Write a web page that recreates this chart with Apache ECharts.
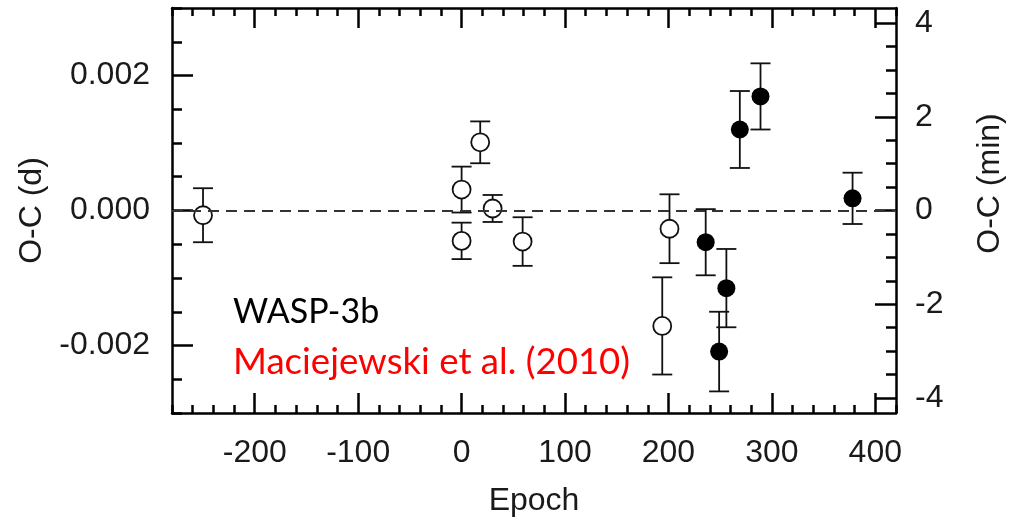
<!DOCTYPE html>
<html>
<head>
<meta charset="utf-8">
<script src="https://cdn.jsdelivr.net/npm/echarts@6/dist/echarts.min.js"></script>
<style>html,body{margin:0;padding:0;background:#fff;}#c{width:1016px;height:522px;}</style>
</head>
<body>
<div id="c"></div>
<script>
// ---- data ----
var openEpoch = [-250, 0, 0, 18, 30, 59, 194, 201];
var openOC    = [-0.00007, 0.00031, -0.00045, 0.00101, 0.00003, -0.00046, -0.00171, -0.00027];
var openErr   = [0.00040, 0.00034, 0.00027, 0.00031, 0.00020, 0.00036, 0.00072, 0.00051];

var filledEpoch = [236, 249, 256, 269, 289, 378];
var filledOC    = [-0.00047, -0.00209, -0.00115, 0.00120, 0.00169, 0.00018];
var filledErr   = [0.00049, 0.00059, 0.00058, 0.00057, 0.00049, 0.00038];

var xMinorTicks = [-280,-260,-240,-220,-200,-180,-160,-140,-120,-100,-80,-60,-40,-20,0,20,40,60,80,100,120,140,160,180,200,220,240,260,280,300,320,340,360,380,400,420];
var xMajorTicks = [-200,-100,0,100,200,300,400];
var dMinorTicks = [-0.003,-0.0025,-0.002,-0.0015,-0.001,-0.0005,0,0.0005,0.001,0.0015,0.002,0.0025,0.003];
var dMajorTicks = [-0.002,0,0.002];
var minMinorTicks = [-4,-3.5,-3,-2.5,-2,-1.5,-1,-0.5,0,0.5,1,1.5,2,2.5,3,3.5,4];
var minMajorTicks = [-4,-2,0,2,4];

var textMain = 'WASP-3b';
var textRef = 'Maciejewski et al. (2010)';

// ---- chart ----
var INK = '#1a1a1a';
var LABEL_FONT = 'Liberation Sans';
function errData(ep, oc, er){
  var out = [];
  for (var i = 0; i < ep.length; i++) out.push([ep[i], oc[i] - er[i], oc[i] + er[i]]);
  return out;
}
function ptData(ep, oc){
  var out = [];
  for (var i = 0; i < ep.length; i++) out.push([ep[i], oc[i]]);
  return out;
}
function renderErr(params, api){
  var x = api.value(0), lo = api.value(1), hi = api.value(2);
  var a = api.coord([x, lo]), b = api.coord([x, hi]);
  var hw = 10;
  var st = {stroke: '#111', lineWidth: 1.8};
  return {type: 'group', children: [
    {type: 'line', shape: {x1: a[0], y1: a[1], x2: b[0], y2: b[1]}, style: st},
    {type: 'line', shape: {x1: a[0]-hw, y1: a[1], x2: a[0]+hw, y2: a[1]}, style: st},
    {type: 'line', shape: {x1: b[0]-hw, y1: b[1], x2: b[0]+hw, y2: b[1]}, style: st}
  ]};
}
function xAx(pos, major, withLine){
  return {
    type: 'value', position: pos, min: -280, max: 420,
    axisLine: {show: withLine, onZero: false, lineStyle: {color: '#000', width: 2.5}},
    axisTick: {show: true, inside: true, length: major ? 20 : 8, customValues: major ? xMajorTicks : xMinorTicks, lineStyle: {color: '#000', width: 2.5}},
    axisLabel: (major && pos === 'bottom') ? {show: true, customValues: xMajorTicks, fontSize: 32, fontFamily: LABEL_FONT, color: INK, margin: 24} : {show: false},
    splitLine: {show: false}
  };
}
function yAx(pos, major, withLine, mn, mx, minorT, majorT){
  return {
    type: 'value', position: pos, min: mn, max: mx,
    axisLine: {show: withLine, onZero: false, lineStyle: {color: '#000', width: 2.5}},
    axisTick: {show: true, inside: true, length: major ? 21 : 10, customValues: major ? majorT : minorT, lineStyle: {color: '#000', width: 2.5}},
    axisLabel: {show: false},
    splitLine: {show: false}
  };
}
var xs = [xAx('bottom', false, true), xAx('bottom', true, false), xAx('top', false, true), xAx('top', true, false)];
xs[1].name = 'Epoch';
xs[1].nameLocation = 'middle';
xs[1].nameGap = 72;
xs[1].nameTextStyle = {fontSize: 32, fontFamily: LABEL_FONT, color: INK};

var yl0 = yAx('left', false, true, -0.003, 0.003, dMinorTicks, dMajorTicks);
var yl1 = yAx('left', true, false, -0.003, 0.003, dMinorTicks, dMajorTicks);
yl1.axisLabel = {show: true, customValues: dMajorTicks, fontSize: 32, fontFamily: LABEL_FONT, color: INK, margin: 22,
  formatter: function(v){ return v.toFixed(3); }};
yl1.name = 'O-C (d)';
yl1.nameLocation = 'middle';
yl1.nameRotate = 90;
yl1.nameGap = 120;
yl1.nameTextStyle = {fontSize: 32, fontFamily: LABEL_FONT, color: INK};

var yr0 = yAx('right', false, true, -4.32, 4.32, minMinorTicks, minMajorTicks);
var yr1 = yAx('right', true, false, -4.32, 4.32, minMinorTicks, minMajorTicks);
yr1.axisLabel = {show: true, customValues: minMajorTicks, fontSize: 32, fontFamily: LABEL_FONT, color: INK, margin: 19};
yr1.name = 'O-C (min)';
yr1.nameLocation = 'middle';
yr1.nameRotate = 90;
yr1.nameGap = 78;
yr1.nameTextStyle = {fontSize: 32, fontFamily: LABEL_FONT, color: INK, padding: [0, 0, 0, 54]};

var chart = echarts.init(document.getElementById('c'), null, {renderer: 'canvas'});
chart.setOption({
  animation: false,
  backgroundColor: '#fff',
  grid: {left: 172, right: 120, top: 8, bottom: 108, containLabel: false},
  xAxis: xs,
  yAxis: [yl0, yl1, yr0, yr1],
  series: [
    {type: 'custom', name: 'errOpen', xAxisIndex: 0, yAxisIndex: 0, renderItem: renderErr, data: errData(openEpoch, openOC, openErr), z: 2,
      markLine: {silent: true, symbol: 'none', label: {show: false}, lineStyle: {color: '#333', width: 1.8, type: [11, 7]}, data: [{yAxis: 0}]}},
    {type: 'custom', name: 'errFilled', xAxisIndex: 0, yAxisIndex: 0, renderItem: renderErr, data: errData(filledEpoch, filledOC, filledErr), z: 2},
    {type: 'scatter', name: 'open', xAxisIndex: 0, yAxisIndex: 0, data: ptData(openEpoch, openOC), symbol: 'circle', symbolSize: 18,
      itemStyle: {color: '#fff', borderColor: '#111', borderWidth: 1.8, opacity: 1}, z: 3},
    {type: 'scatter', name: 'filled', xAxisIndex: 0, yAxisIndex: 0, data: ptData(filledEpoch, filledOC), symbol: 'circle', symbolSize: 18,
      itemStyle: {color: '#000', borderColor: '#000', borderWidth: 0, opacity: 1}, z: 3}
  ],
  graphic: [
    {type: 'text', left: 233, top: 295, z: 10, style: {text: textMain, font: '34px Lato', fill: '#000'}},
    {type: 'text', left: 233, top: 344, z: 10, style: {text: textRef, font: '36.6px Lato', fill: '#ff0000'}}
  ]
});
</script>
</body>
</html>
